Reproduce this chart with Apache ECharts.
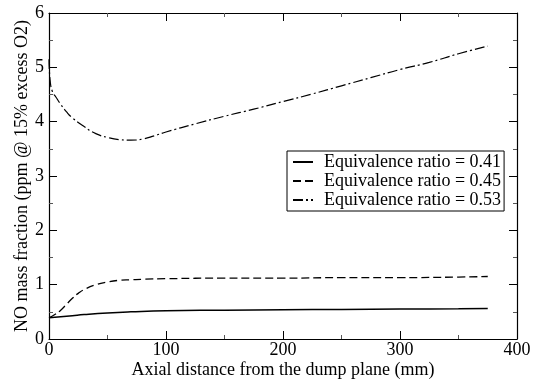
<!DOCTYPE html>
<html>
<head>
    <meta charset="utf-8">
    <title>NO mass fraction</title>
    <script src="https://cdn.jsdelivr.net/npm/echarts@6/dist/echarts.min.js"></script>
    <style>
        html, body { margin: 0; padding: 0; background: #fff; }
        #main { width: 536px; height: 381px; }
    </style>
</head>
<body>
<div id="main"></div>
<script>
    var xTicks = [0, 100, 200, 300, 400];
    var yTicks = [0, 1, 2, 3, 4, 5, 6];

    var names = ['Equivalence ratio = 0.41', 'Equivalence ratio = 0.45', 'Equivalence ratio = 0.53'];

    var x041 = [0, 10, 20, 30, 50, 70, 100, 150, 200, 250, 300, 350, 375];
    var y041 = [0.39, 0.41, 0.43, 0.45, 0.48, 0.50, 0.52, 0.53, 0.54, 0.545, 0.55, 0.555, 0.56];

    var x045 = [0, 5, 10, 15, 20, 25, 30, 40, 50, 60, 70, 80, 100, 150, 200, 250, 300, 350, 375];
    var y045 = [0.39, 0.45, 0.53, 0.64, 0.75, 0.84, 0.91, 1.0, 1.05, 1.08, 1.09, 1.10, 1.11, 1.12, 1.12, 1.13, 1.13, 1.14, 1.15];

    var x053 = [0, 1, 3, 6, 10, 15, 20, 30, 40, 50, 60, 70, 80, 90, 100, 125, 150, 175, 200, 225, 250, 275, 300, 325, 350, 375];
    var y053 = [5.15, 4.75, 4.55, 4.45, 4.32, 4.18, 4.07, 3.91, 3.78, 3.71, 3.67, 3.66, 3.68, 3.74, 3.81, 3.96, 4.1, 4.23, 4.37, 4.51, 4.66, 4.81, 4.96, 5.09, 5.25, 5.39];

    function pairs(xs, ys) {
        var out = [];
        for (var i = 0; i < xs.length; i++) {
            out.push([xs[i], ys[i]]);
        }
        return out;
    }

    var font = 'Liberation Serif';
    var chart = echarts.init(document.getElementById('main'), null, {renderer: 'canvas'});

    var tickCommon = {
        axisLine: {show: true, onZero: false, lineStyle: {color: '#000', width: 1.2}},
        axisTick: {show: true, inside: true, length: 8, lineStyle: {color: '#000', width: 1}},
        minorTick: {show: true, splitNumber: 2, length: 4, lineStyle: {color: '#555', width: 1}},
        splitLine: {show: false},
        nameMoveOverlap: false
    };

    function xAxis(pos, labels) {
        return Object.assign({
            type: 'value', position: pos, min: 0, max: 400, interval: 100,
            name: labels ? 'Axial distance from the dump plane (mm)' : '',
            nameLocation: 'middle', nameGap: 22,
            nameTextStyle: {fontFamily: font, fontSize: 18, color: '#000'},
            axisLabel: {show: labels, fontFamily: font, fontSize: 18, color: '#000', margin: 2,
                formatter: function (v) { return xTicks.indexOf(v) >= 0 ? String(v) : ''; }}
        }, tickCommon);
    }

    function yAxis(pos, labels) {
        return Object.assign({
            type: 'value', position: pos, min: 0, max: 6, interval: 1,
            name: labels ? 'NO mass fraction (ppm @ 15% excess O2)' : '',
            nameLocation: 'middle', nameGap: 18,
            nameTextStyle: {fontFamily: font, fontSize: 18, color: '#000'},
            axisLabel: {show: labels, fontFamily: font, fontSize: 18, color: '#000', margin: 5,
                formatter: function (v) { return yTicks.indexOf(v) >= 0 ? String(v) : ''; }}
        }, tickCommon);
    }

    var option = {
        animation: false,
        backgroundColor: '#fff',
        grid: {left: 49, right: 19, top: 13, bottom: 42, containLabel: false, outerBoundsMode: 'none'},
        xAxis: [xAxis('bottom', true), xAxis('top', false)],
        yAxis: [yAxis('left', true), yAxis('right', false)],
        legend: {
            data: names,
            orient: 'vertical',
            left: 287, top: 151,
            padding: [2, 3, 2, 5],
            itemGap: 1,
            itemWidth: 20, itemHeight: 19,
            itemStyle: {color: 'transparent', borderWidth: 0},
            borderColor: '#000', borderWidth: 1,
            backgroundColor: '#fff',
            textStyle: {fontFamily: font, fontSize: 18, color: '#000', padding: [0, 0, 0, 6]}
        },
        series: [
            {name: names[0], type: 'line', data: pairs(x041, y041), showSymbol: false, symbol: 'none',
                smooth: true, lineStyle: {color: '#000', width: 1.5, type: 'solid'}, itemStyle: {color: '#000'}},
            {name: names[1], type: 'line', data: pairs(x045, y045), showSymbol: false, symbol: 'none',
                smooth: true, lineStyle: {color: '#000', width: 1.3, type: [8, 4]}, itemStyle: {color: '#000'}},
            {name: names[2], type: 'line', data: pairs(x053, y053), showSymbol: false, symbol: 'none',
                smooth: true, lineStyle: {color: '#000', width: 1.2, type: [10, 3, 2, 3]}, itemStyle: {color: '#000'}}
        ]
    };

    chart.setOption(option);
</script>
</body>
</html>
